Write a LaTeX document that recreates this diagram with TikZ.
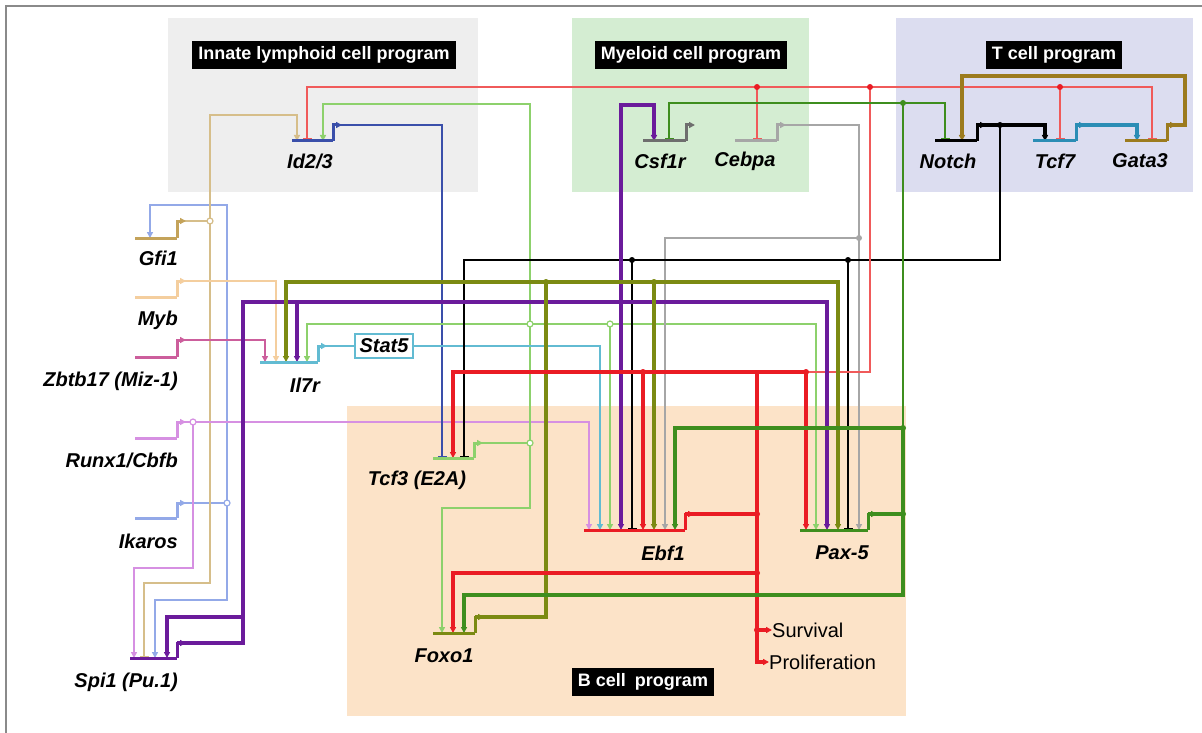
\documentclass[tikz,border=0pt]{standalone}
\usepackage{fontspec}
\setmainfont{Liberation Sans}
\usetikzlibrary{arrows.meta}
\definecolor{cTan}{HTML}{D6BE8A}
\definecolor{cTanD}{HTML}{C4A35A}
\definecolor{cPeach}{HTML}{F4CE9E}
\definecolor{cPink}{HTML}{CC5E9C}
\definecolor{cViolet}{HTML}{D690E2}
\definecolor{cLBlue}{HTML}{93A9E8}
\definecolor{cPurple}{HTML}{6B1B9B}
\definecolor{cDBlue}{HTML}{3A4FAA}
\definecolor{cLGreen}{HTML}{8DD16C}
\definecolor{cCyan}{HTML}{62BBD2}
\definecolor{cRed}{HTML}{EA1C24}
\definecolor{cRedT}{HTML}{F05A5A}
\definecolor{cOlive}{HTML}{7B8A12}
\definecolor{cGray}{HTML}{A6A6A6}
\definecolor{cDGray}{HTML}{6E6E6E}
\definecolor{cDGreen}{HTML}{3E8E1E}
\definecolor{cTeal}{HTML}{2B8DB5}
\definecolor{cBrown}{HTML}{9C7B1E}
\definecolor{bgGray}{HTML}{EEEEEE}
\definecolor{bgGreen}{HTML}{D4EDD2}
\definecolor{bgLav}{HTML}{DCDDF0}
\definecolor{bgPeach}{HTML}{FCE3C8}
\definecolor{frameGray}{HTML}{8A8A8A}
\begin{document}
\begin{tikzpicture}[x=1pt,y=-1pt,
  act/.style={-{Triangle[length=6pt,width=6pt]}},
  rep/.style={-{Bar[width=9pt,line width=2.5pt]}},
  wthin/.style={line width=1.5pt},
  wmed/.style={line width=2.4pt},
  wthick/.style={line width=3.6pt},
  base/.style={line width=3pt},
  jo/.style={circle,draw,fill=white,line width=1.2pt,inner sep=0pt,minimum size=6pt},
  jf/.style={circle,fill,inner sep=0pt,minimum size=6pt},
  gl/.style={font=\fontsize{20}{22}\selectfont\bfseries\itshape, inner sep=0pt},
  hdr/.style={fill=black,text=white,font=\fontsize{18}{20}\selectfont\bfseries,minimum height=28pt,inner xsep=6pt,inner ysep=0pt},
  fate/.style={font=\fontsize{20}{22}\selectfont, inner sep=0pt, anchor=west}
]
\useasboundingbox (0,0) rectangle (1202,733);
\fill[white] (0,0) rectangle (1202,733);
\draw[frameGray, line width=2pt] (6,733) -- (6,6) -- (1202,6);

% program backgrounds
\fill[bgGray]  (168,18) rectangle (478,192);
\fill[bgGreen] (572,18) rectangle (809,192);
\fill[bgLav]   (896,18) rectangle (1193,192);
\fill[bgPeach] (347,406) rectangle (906,716);

\node[hdr] (hInn) at (324,55) {Innate lymphoid cell program};
\node[hdr] (hMye) at (691,55) {Myeloid cell program};
\node[hdr] (hT)   at (1054,55) {T cell program};
\node[hdr] (hB)   at (643,682) {B cell\enspace program};

% gene baselines (start/end) and promoter outputs
\coordinate (IdS) at (292,141); \coordinate (IdE) at (333,141); \coordinate (IdO) at (333,125);
\coordinate (CsS) at (643,141); \coordinate (CsE) at (686,141); \coordinate (CsO) at (686,125);
\coordinate (CeS) at (735,141); \coordinate (CeE) at (777,141); \coordinate (CeO) at (777,125);
\coordinate (NoS) at (935,141); \coordinate (NoE) at (977,141); \coordinate (NoO) at (977,125);
\coordinate (TcS) at (1033,141); \coordinate (TcE) at (1076,141); \coordinate (TcO) at (1076,125);
\coordinate (GaS) at (1125,141); \coordinate (GaE) at (1167,141); \coordinate (GaO) at (1167,125);
\coordinate (GfS) at (135,238); \coordinate (GfE) at (177,238); \coordinate (GfO) at (177,221);
\coordinate (MyS) at (135,297); \coordinate (MyE) at (177,297); \coordinate (MyO) at (177,281);
\coordinate (ZbS) at (135,357); \coordinate (ZbE) at (177,357); \coordinate (ZbO) at (177,340);
\coordinate (IlS) at (260,362); \coordinate (IlE) at (318,362); \coordinate (IlO) at (318,346);
\coordinate (RuS) at (135,438); \coordinate (RuE) at (177,438); \coordinate (RuO) at (177,422);
\coordinate (IkS) at (135,518); \coordinate (IkE) at (177,518); \coordinate (IkO) at (177,503);
\coordinate (SpS) at (130,658); \coordinate (SpE) at (177,658); \coordinate (SpO) at (177,643);
\coordinate (T3S) at (433,458); \coordinate (T3E) at (474,458); \coordinate (T3O) at (474,443);
\coordinate (EbS) at (584,530); \coordinate (EbE) at (685,530); \coordinate (EbO) at (685,514);
\coordinate (PaS) at (800,530); \coordinate (PaE) at (868,530); \coordinate (PaO) at (868,514);
\coordinate (FoS) at (433,633); \coordinate (FoE) at (475,633); \coordinate (FoO) at (475,617);

% junctions
\coordinate (Jik) at (227,503);
\coordinate (Jgf) at (210,221);
\coordinate (Jru) at (193,422);
\coordinate (Jsp0) at (243,302);
\coordinate (Jsp1) at (243,617);
\coordinate (Jsp2) at (297,302);
\coordinate (Jsp3) at (621,302);
\coordinate (Jt1) at (530,443);
\coordinate (Jt2) at (530,324);
\coordinate (Jt3) at (610,324);
\coordinate (Jf1) at (546,282);
\coordinate (Jf2) at (654,282);
\coordinate (Je1) at (757,514);
\coordinate (Je2) at (757,372);
\coordinate (Je3) at (643,372);
\coordinate (Je4) at (806,372);
\coordinate (Je5) at (757,573);
\coordinate (Je6) at (757,630);
\coordinate (Jr1) at (757,87);
\coordinate (Jr2) at (870,87);
\coordinate (Jr3) at (1060,87);
\coordinate (Jp1) at (903,514);
\coordinate (Jp2) at (903,428);
\coordinate (Jp3) at (903,103);
\coordinate (Jn1) at (1000,125);
\coordinate (Jn2) at (848,260);
\coordinate (Jn3) at (632,260);
\coordinate (Jc1) at (859,238);

% fate labels and Stat5
\node[fate] (Surv) at (772,630) {Survival};
\node[fate] (Prol) at (769,662) {Proliferation};
\node[draw=cCyan, line width=2pt, fill=white, gl, minimum width=58pt, minimum height=24pt] (Stat5) at (384,346) {Stat5};

% ---- thin connectors ----
% Ikaros
\draw[cLBlue, wmed] (IkO) -- (Jik);
\draw[cLBlue, wmed, act] (Jik) |- (150,205) -- (150,0 |- GfS);
\draw[cLBlue, wmed, act] (Jik) |- (155,600) -- (155,0 |- SpS);
% Gfi1
\draw[cTan, wmed] (GfO) -- (Jgf);
\draw[cTan, wmed, act] (Jgf) |- (297,115) -- (297,0 |- IdS);
\draw[cTan, wmed, rep] (Jgf) |- (144,583) -- (144,0 |- SpS);
% Myb
\draw[cPeach, wmed, act] (MyO) -| (276,0 |- IlS);
% Zbtb17
\draw[cPink, wmed, act] (ZbO) -| (265,0 |- IlS);
% Runx1
\draw[cViolet, wmed] (RuO) -- (Jru);
\draw[cViolet, wmed, act] (Jru) -| (589,0 |- EbS);
\draw[cViolet, wmed, act] (Jru) |- (134,568) -- (134,0 |- SpS);
% Id2/3
\draw[cDBlue, wmed, rep] (IdO) -| (442,0 |- T3S);
% Tcf3
\draw[cLGreen, wmed] (T3O) -- (Jt1);
\draw[cLGreen, wmed, act] (Jt1) |- (323,104) -- (323,0 |- IdS);
\draw[cLGreen, wmed, act] (Jt1) |- (442,508) -- (442,0 |- FoS);
\draw[cLGreen, wmed, act] (Jt2) -| (307,0 |- IlS);
\draw[cLGreen, wmed, act] (Jt2) -| (816,0 |- PaS);
\draw[cLGreen, wmed, act] (Jt3) -- (610,0 |- EbS);
% Il7r / Stat5
\draw[cCyan, wmed] (IlO) -- (Stat5.west);
\draw[cCyan, wmed, act] (Stat5.east) -| (600,0 |- EbS);
% Cebpa
\draw[cGray, wthin, act] (CeO) -| (Jc1) -| (665,0 |- EbS);
\draw[cGray, wthin, act] (Jc1) -- (859,0 |- PaS);
% Notch thin branches
\draw[black, wthin, rep] (Jn1) |- (464,260) -- (464,0 |- T3S);
\draw[black, wthin, rep] (Jn2) -- (848,0 |- PaS);
\draw[black, wthin, rep] (Jn3) -- (632,0 |- EbS);
% Ebf1 thin red
\draw[cRedT, wthin] (Je4) -| (Jr2);
\draw[cRedT, wthin, rep] (Jr2) -| (307,0 |- IdS);
\draw[cRedT, wthin, rep] (Jr2) -| (1152,0 |- GaS);
\draw[cRedT, wthin, rep] (Jr1) -- (757,0 |- CeS);
\draw[cRedT, wthin, rep] (Jr3) -- (1060,0 |- TcS);
% Pax-5 thin green
\draw[cDGreen, wthin] (Jp2) -- (Jp3);
\draw[cDGreen, wthin, rep] (Jp3) -| (669,0 |- CsS);
\draw[cDGreen, wthin, rep] (Jp3) -| (945,0 |- NoS);

% ---- thick connectors ----
% Spi1
\draw[cPurple, wthick, act] (SpO) -| (Jsp0) -| (827,0 |- PaS);
\draw[cPurple, wthick, act] (Jsp1) -| (167,0 |- SpS);
\draw[cPurple, wthick, act] (Jsp2) -- (297,0 |- IlS);
\draw[cPurple, wthick, act] (Jsp3) |- (654,105) -- (654,0 |- CsS);
\draw[cPurple, wthick, act] (Jsp3) -- (621,0 |- EbS);
% Foxo1
\draw[cOlive, wthick] (FoO) -| (Jf1);
\draw[cOlive, wthick, act] (Jf1) -| (286,0 |- IlS);
\draw[cOlive, wthick, act] (Jf1) -| (838,0 |- PaS);
\draw[cOlive, wthick, act] (Jf2) -- (654,0 |- EbS);
% Ebf1
\draw[cRed, wthick] (EbO) -- (Je1) -- (Je2);
\draw[cRed, wthick, act] (Je2) -| (453,0 |- T3S);
\draw[cRed, wthick, act] (Je2) -| (806,0 |- PaS);
\draw[cRed, wthick, act] (Je3) -- (643,0 |- EbS);
\draw[cRed, wthick, act] (Je5) -| (453,0 |- FoS);
\draw[cRed, wthick, act] (Je6) -- (Surv.west);
\draw[cRed, wthick, act] (Je1) |- (Prol.west);
% Pax-5
\draw[cDGreen, wthick] (PaO) -- (Jp1) -- (Jp2);
\draw[cDGreen, wthick, act] (Jp1) -- (903,595) -| (464,0 |- FoS);
\draw[cDGreen, wthick, act] (Jp2) -| (675,0 |- EbS);
% Notch
\draw[black, wthick, act] (NoO) -| (1045,0 |- TcS);
% Tcf7
\draw[cTeal, wthick, act] (TcO) -| (1137,0 |- GaS);
% Gata3
\draw[cBrown, wthick, act] (GaO) -- (1185,125) |- (962,76) -- (962,0 |- NoS);

% ---- gene baselines and promoter arrows ----
\foreach \g/\c in {Id/cDBlue, Cs/cDGray, Ce/cGray, No/black, Tc/cTeal, Ga/cBrown,
  Gf/cTanD, My/cPeach, Zb/cPink, Il/cCyan, Ru/cViolet, Ik/cLBlue, Sp/cPurple,
  T3/cLGreen, Eb/cRed, Pa/cDGreen, Fo/cOlive}{
  \draw[\c, base] (\g S) -- (\g E);
  \draw[\c, base, act] (\g E) -- (\g O) -- ++(9,0);
}

% ---- junction dots ----
\node[jo, draw=cLBlue] at (Jik) {};
\node[jo, draw=cTan] at (Jgf) {};
\node[jo, draw=cViolet] at (Jru) {};
\node[jo, draw=cLGreen] at (Jt1) {};
\node[jo, draw=cLGreen] at (Jt2) {};
\node[jo, draw=cLGreen] at (Jt3) {};
\node[jf, cOlive] at (Jf1) {};
\node[jf, cOlive] at (Jf2) {};
\node[jf, cRed] at (Je1) {};
\node[jf, cRed] at (Je3) {};
\node[jf, cRed] at (Je4) {};
\node[jf, cRed] at (Je5) {};
\node[jf, cRed] at (Je6) {};
\node[jf, cRed] at (Jr1) {};
\node[jf, cRed] at (Jr2) {};
\node[jf, cRed] at (Jr3) {};
\node[jf, cDGreen] at (Jp1) {};
\node[jf, cDGreen] at (Jp2) {};
\node[jf, cDGreen] at (Jp3) {};
\node[jf, black] at (Jn1) {};
\node[jf, black] at (Jn2) {};
\node[jf, black] at (Jn3) {};
\node[jf, cGray] at (Jc1) {};

% ---- gene labels ----
\node[gl] (lId) at (310,161) {Id2/3};
\node[gl] (lCs) at (660,161) {Csf1r};
\node[gl] (lCe) at (745,161) {Cebpa};
\node[gl] (lNo) at (948,161) {Notch};
\node[gl] (lTc) at (1055,161) {Tcf7};
\node[gl] (lGa) at (1140,161) {Gata3};
\node[gl, anchor=east] (lGf) at (178,258) {Gfi1};
\node[gl, anchor=east] (lMy) at (178,320) {Myb};
\node[gl, anchor=east] (lZb) at (178,381) {Zbtb17 (Miz-1)};
\node[gl, anchor=east] (lRu) at (178,460) {Runx1/Cbfb};
\node[gl, anchor=east] (lIk) at (178,541) {Ikaros};
\node[gl, anchor=east] (lSp) at (178,682) {Spi1 (Pu.1)};
\node[gl] (lIl) at (305,385) {Il7r};
\node[gl] (lT3) at (417,480) {Tcf3 (E2A)};
\node[gl] (lEb) at (663,553) {Ebf1};
\node[gl] (lPa) at (842,553) {Pax-5};
\node[gl] (lFo) at (444,656) {Foxo1};
\end{tikzpicture}
\end{document}
